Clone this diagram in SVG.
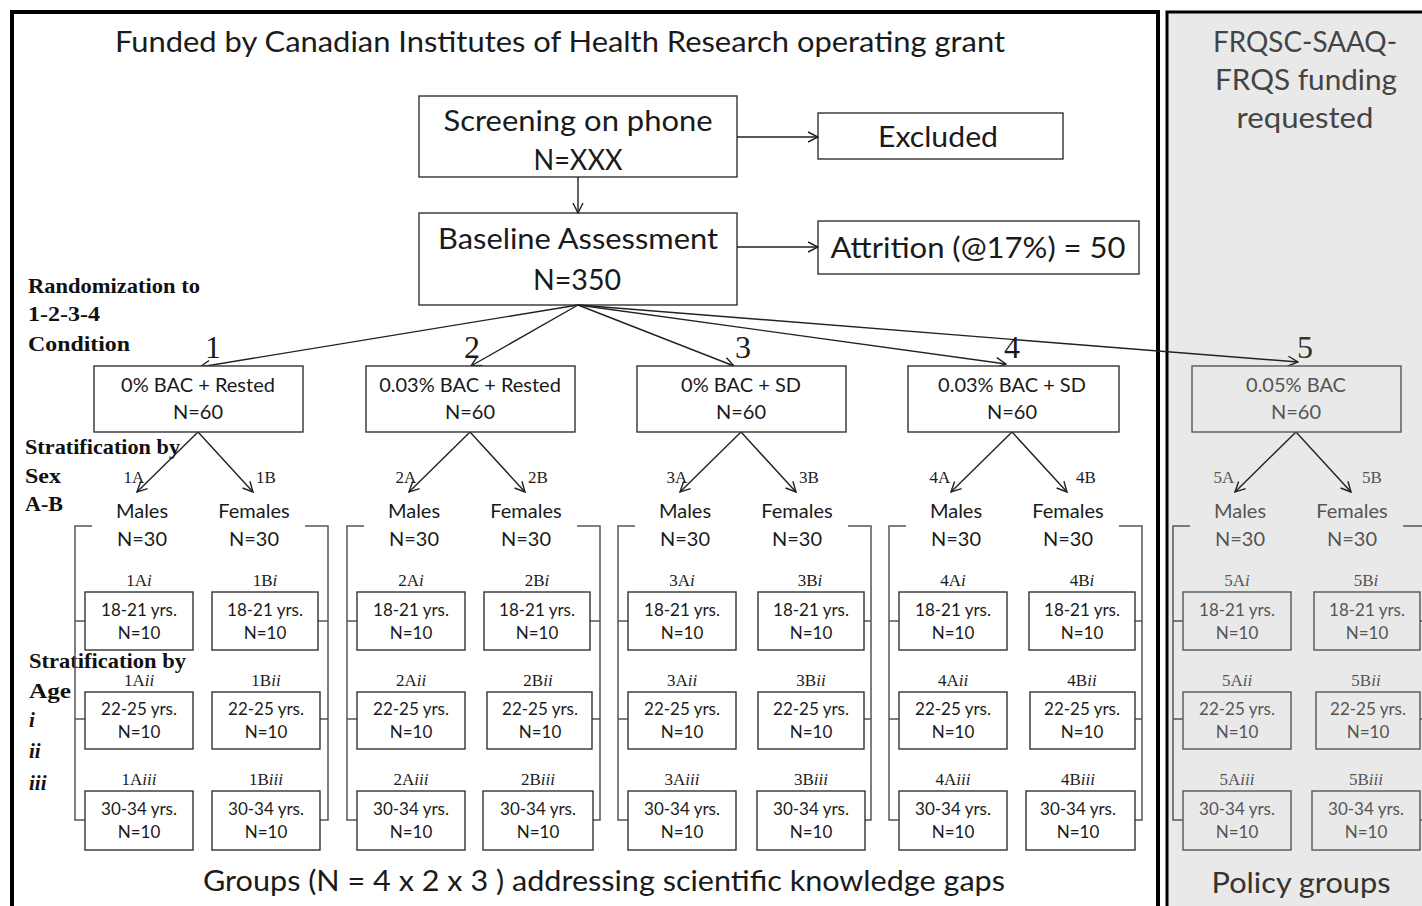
<svg xmlns="http://www.w3.org/2000/svg" width="1422" height="906" viewBox="0 0 1422 906">
<defs>
<style>
.sans{font-family:Lato,"Open Sans","Liberation Sans",sans-serif;fill:#1a1a1a}
.ser{font-family:"Liberation Serif","DejaVu Serif",serif;fill:#1a1a1a}
.lbl{font-family:"Liberation Serif","DejaVu Serif",serif;font-weight:bold;font-size:21px;fill:#111}
.big{font-size:28px}
.mid{font-size:20px}
.sm{font-size:17px}
.box{fill:#fff;stroke:#333;stroke-width:1.4}
.ln{fill:none;stroke:#222;stroke-width:1.4}
.br{fill:none;stroke:#555;stroke-width:1.5}
.c{text-anchor:middle}
.grey .box{fill:#e9e9e9;stroke:#555}
.grey text{fill:#555}
</style>
<marker id="ah" viewBox="0 0 12 12" refX="11" refY="6" markerWidth="12" markerHeight="12" markerUnits="userSpaceOnUse" orient="auto">
<path d="M1,1 L11,6 L1,11" fill="none" stroke="#222" stroke-width="1.4"/>
</marker>
</defs>
<rect x="0" y="0" width="1422" height="906" fill="#fff"/>
<g id="frames">
<rect x="12" y="12" width="1146" height="910" fill="#fff" stroke="#000" stroke-width="4"/>
<rect x="1167" y="12" width="270" height="910" fill="#e9e9e9" stroke="#000" stroke-width="3"/>
</g>
<g id="headers">
<text class="sans big c" x="560" y="52" textLength="890" lengthAdjust="spacingAndGlyphs">Funded by Canadian Institutes of Health Research operating grant</text>
<text class="sans big c" x="1305" y="52" style="fill:#444" textLength="184" lengthAdjust="spacingAndGlyphs">FRQSC-SAAQ-</text>
<text class="sans big c" x="1306" y="90" style="fill:#444" textLength="182" lengthAdjust="spacingAndGlyphs">FRQS funding</text>
<text class="sans big c" x="1305" y="128" style="fill:#444" textLength="137" lengthAdjust="spacingAndGlyphs">requested</text>
<text class="sans big c" x="604" y="891" textLength="802" lengthAdjust="spacingAndGlyphs">Groups (N = 4 x 2 x 3 ) addressing scientific knowledge gaps</text>
<text class="sans big c" x="1301" y="893" style="fill:#333" textLength="179" lengthAdjust="spacingAndGlyphs">Policy groups</text>
</g>
<g id="side-labels">
<text class="lbl" x="28" y="293" textLength="172" lengthAdjust="spacingAndGlyphs">Randomization to</text>
<text class="lbl" x="28" y="321" textLength="72" lengthAdjust="spacingAndGlyphs">1-2-3-4</text>
<text class="lbl" x="28" y="351" textLength="102" lengthAdjust="spacingAndGlyphs">Condition</text>
<text class="lbl" x="25" y="454" textLength="155" lengthAdjust="spacingAndGlyphs">Stratification by</text>
<text class="lbl" x="25" y="483" textLength="36" lengthAdjust="spacingAndGlyphs">Sex</text>
<text class="lbl" x="25" y="511" textLength="38" lengthAdjust="spacingAndGlyphs">A-B</text>
<text class="lbl" x="29" y="668" textLength="157" lengthAdjust="spacingAndGlyphs">Stratification by</text>
<text class="lbl" x="29" y="698" textLength="42" lengthAdjust="spacingAndGlyphs">Age</text>
<text class="lbl" x="29" y="727" font-style="italic">i</text>
<text class="lbl" x="29" y="758" font-style="italic">ii</text>
<text class="lbl" x="29" y="790" font-style="italic">iii</text>
</g>
<g id="screening">
<rect class="box" x="419" y="96" width="318" height="81"/>
<text class="sans big c" x="578" y="131" textLength="269" lengthAdjust="spacingAndGlyphs">Screening on phone</text>
<text class="sans big c" x="578" y="170" textLength="89" lengthAdjust="spacingAndGlyphs">N=XXX</text>
</g>
<g id="excluded">
<rect class="box" x="818" y="113" width="245" height="46"/>
<text class="sans big c" x="938" y="147" textLength="120" lengthAdjust="spacingAndGlyphs">Excluded</text>
</g>
<g id="baseline">
<rect class="box" x="419" y="213" width="318" height="92"/>
<text class="sans big c" x="578" y="249" textLength="280" lengthAdjust="spacingAndGlyphs">Baseline Assessment</text>
<text class="sans big c" x="577" y="290" textLength="88" lengthAdjust="spacingAndGlyphs">N=350</text>
</g>
<g id="attrition">
<rect class="box" x="818" y="221" width="321" height="53"/>
<text class="sans big c" x="978" y="258" textLength="295" lengthAdjust="spacingAndGlyphs">Attrition (@17%) = 50</text>
</g>
<g id="connectors">
<line class="ln" x1="737" y1="137" x2="818" y2="137" marker-end="url(#ah)"/>
<line class="ln" x1="737" y1="247" x2="818" y2="247" marker-end="url(#ah)"/>
<line class="ln" x1="578" y1="177" x2="578" y2="213" marker-end="url(#ah)"/>
<line class="ln" x1="578" y1="305" x2="200" y2="367" marker-end="url(#ah)"/>
<line class="ln" x1="578" y1="305" x2="471" y2="366" marker-end="url(#ah)"/>
<line class="ln" x1="578" y1="305" x2="734" y2="366" marker-end="url(#ah)"/>
<line class="ln" x1="578" y1="305" x2="1006" y2="364" marker-end="url(#ah)"/>
<line class="ln" x1="578" y1="305" x2="1298" y2="362" marker-end="url(#ah)"/>
<g id="col-links-1">
<line class="ln" x1="198" y1="432" x2="137" y2="492" marker-end="url(#ah)"/>
<line class="ln" x1="198" y1="432" x2="253" y2="492" marker-end="url(#ah)"/>
<polyline class="br" points="92,526 75,526 75,820 85,820"/>
<line class="br" x1="75" y1="621" x2="85" y2="621"/>
<line class="br" x1="75" y1="719" x2="85" y2="719"/>
<polyline class="br" points="305,526 328,526 328,820 320,820"/>
<line class="br" x1="328" y1="621" x2="318" y2="621"/>
<line class="br" x1="328" y1="719" x2="320" y2="719"/>
</g>
<use href="#col-links-1" transform="translate(272,0)"/>
<use href="#col-links-1" transform="translate(543,0)"/>
<use href="#col-links-1" transform="translate(814,0)"/>
<use href="#col-links-1" transform="translate(1098,0)"/>
</g>
<g id="cond1">
<rect class="box" x="94" y="366" width="209" height="66"/>
<text class="sans mid c" x="198" y="392">0% BAC + Rested</text>
<text class="sans mid c" x="198" y="419">N=60</text>
<text class="ser c" x="213" y="358" font-size="32">1</text>
</g>
<g id="cond2" transform="translate(272,0)">
<rect class="box" x="94" y="366" width="209" height="66"/>
<text class="sans mid c" x="198" y="392">0.03% BAC + Rested</text>
<text class="sans mid c" x="198" y="419">N=60</text>
<text class="ser c" x="200" y="358" font-size="32">2</text>
</g>
<g id="cond3" transform="translate(543,0)">
<rect class="box" x="94" y="366" width="209" height="66"/>
<text class="sans mid c" x="198" y="392">0% BAC + SD</text>
<text class="sans mid c" x="198" y="419">N=60</text>
<text class="ser c" x="200" y="358" font-size="32">3</text>
</g>
<g id="cond4" transform="translate(814,0)">
<rect class="box" x="94" y="366" width="211" height="66"/>
<text class="sans mid c" x="198" y="392">0.03% BAC + SD</text>
<text class="sans mid c" x="198" y="419">N=60</text>
<text class="ser c" x="198" y="358" font-size="32">4</text>
</g>
<g id="cond5" class="grey" transform="translate(1098,0)">
<rect class="box" x="94" y="366" width="209" height="66"/>
<text class="sans mid c" x="198" y="392">0.05% BAC</text>
<text class="sans mid c" x="198" y="419">N=60</text>
<text class="ser c" x="207" y="358" font-size="32" style="fill:#333">5</text>
</g>
<g id="sex1">
<text class="ser sm c" x="134" y="483">1A</text>
<text class="ser sm c" x="266" y="483">1B</text>
<text class="sans mid c" x="142" y="518">Males</text>
<text class="sans mid c" x="142" y="546">N=30</text>
<text class="sans mid c" x="254" y="518">Females</text>
<text class="sans mid c" x="254" y="546">N=30</text>
</g>
<g id="sex2" transform="translate(272,0)">
<text class="ser sm c" x="134" y="483">2A</text>
<text class="ser sm c" x="266" y="483">2B</text>
<text class="sans mid c" x="142" y="518">Males</text>
<text class="sans mid c" x="142" y="546">N=30</text>
<text class="sans mid c" x="254" y="518">Females</text>
<text class="sans mid c" x="254" y="546">N=30</text>
</g>
<g id="sex3" transform="translate(543,0)">
<text class="ser sm c" x="134" y="483">3A</text>
<text class="ser sm c" x="266" y="483">3B</text>
<text class="sans mid c" x="142" y="518">Males</text>
<text class="sans mid c" x="142" y="546">N=30</text>
<text class="sans mid c" x="254" y="518">Females</text>
<text class="sans mid c" x="254" y="546">N=30</text>
</g>
<g id="sex4" transform="translate(814,0)">
<text class="ser sm c" x="126" y="483">4A</text>
<text class="ser sm c" x="272" y="483">4B</text>
<text class="sans mid c" x="142" y="518">Males</text>
<text class="sans mid c" x="142" y="546">N=30</text>
<text class="sans mid c" x="254" y="518">Females</text>
<text class="sans mid c" x="254" y="546">N=30</text>
</g>
<g id="sex5" class="grey" transform="translate(1098,0)">
<text class="ser sm c" x="126" y="483">5A</text>
<text class="ser sm c" x="274" y="483">5B</text>
<text class="sans mid c" x="142" y="518">Males</text>
<text class="sans mid c" x="142" y="546">N=30</text>
<text class="sans mid c" x="254" y="518">Females</text>
<text class="sans mid c" x="254" y="546">N=30</text>
</g>
<g id="age1">
<text class="ser sm c" x="139" y="586">1A<tspan font-style="italic">i</tspan></text>
<rect class="box" x="85" y="592" width="108" height="58"/>
<text class="sans sm c" x="139" y="616">18-21 yrs.</text><text class="sans sm c" x="139" y="639">N=10</text>
<text class="ser sm c" x="265" y="586">1B<tspan font-style="italic">i</tspan></text>
<rect class="box" x="212" y="592" width="106" height="58"/>
<text class="sans sm c" x="265" y="616">18-21 yrs.</text><text class="sans sm c" x="265" y="639">N=10</text>
<text class="ser sm c" x="139" y="686">1A<tspan font-style="italic">ii</tspan></text>
<rect class="box" x="85" y="692" width="108" height="57"/>
<text class="sans sm c" x="139" y="715">22-25 yrs.</text><text class="sans sm c" x="139" y="738">N=10</text>
<text class="ser sm c" x="266" y="686">1B<tspan font-style="italic">ii</tspan></text>
<rect class="box" x="212" y="692" width="108" height="57"/>
<text class="sans sm c" x="266" y="715">22-25 yrs.</text><text class="sans sm c" x="266" y="738">N=10</text>
<text class="ser sm c" x="139" y="785">1A<tspan font-style="italic">iii</tspan></text>
<rect class="box" x="85" y="791" width="108" height="59"/>
<text class="sans sm c" x="139" y="815">30-34 yrs.</text><text class="sans sm c" x="139" y="838">N=10</text>
<text class="ser sm c" x="266" y="785">1B<tspan font-style="italic">iii</tspan></text>
<rect class="box" x="212" y="791" width="108" height="59"/>
<text class="sans sm c" x="266" y="815">30-34 yrs.</text><text class="sans sm c" x="266" y="838">N=10</text>
</g>
<g id="age2" transform="translate(272,0)">
<text class="ser sm c" x="139" y="586">2A<tspan font-style="italic">i</tspan></text>
<rect class="box" x="85" y="592" width="108" height="58"/>
<text class="sans sm c" x="139" y="616">18-21 yrs.</text><text class="sans sm c" x="139" y="639">N=10</text>
<text class="ser sm c" x="265" y="586">2B<tspan font-style="italic">i</tspan></text>
<rect class="box" x="212" y="592" width="106" height="58"/>
<text class="sans sm c" x="265" y="616">18-21 yrs.</text><text class="sans sm c" x="265" y="639">N=10</text>
<text class="ser sm c" x="139" y="686">2A<tspan font-style="italic">ii</tspan></text>
<rect class="box" x="85" y="692" width="108" height="57"/>
<text class="sans sm c" x="139" y="715">22-25 yrs.</text><text class="sans sm c" x="139" y="738">N=10</text>
<text class="ser sm c" x="266" y="686">2B<tspan font-style="italic">ii</tspan></text>
<rect class="box" x="215" y="692" width="105" height="57"/>
<text class="sans sm c" x="268" y="715">22-25 yrs.</text><text class="sans sm c" x="268" y="738">N=10</text>
<text class="ser sm c" x="139" y="785">2A<tspan font-style="italic">iii</tspan></text>
<rect class="box" x="85" y="791" width="108" height="59"/>
<text class="sans sm c" x="139" y="815">30-34 yrs.</text><text class="sans sm c" x="139" y="838">N=10</text>
<text class="ser sm c" x="266" y="785">2B<tspan font-style="italic">iii</tspan></text>
<rect class="box" x="211" y="791" width="110" height="59"/>
<text class="sans sm c" x="266" y="815">30-34 yrs.</text><text class="sans sm c" x="266" y="838">N=10</text>
</g>
<g id="age3" transform="translate(543,0)">
<text class="ser sm c" x="139" y="586">3A<tspan font-style="italic">i</tspan></text>
<rect class="box" x="85" y="592" width="108" height="58"/>
<text class="sans sm c" x="139" y="616">18-21 yrs.</text><text class="sans sm c" x="139" y="639">N=10</text>
<text class="ser sm c" x="267" y="586">3B<tspan font-style="italic">i</tspan></text>
<rect class="box" x="215" y="592" width="106" height="58"/>
<text class="sans sm c" x="268" y="616">18-21 yrs.</text><text class="sans sm c" x="268" y="639">N=10</text>
<text class="ser sm c" x="139" y="686">3A<tspan font-style="italic">ii</tspan></text>
<rect class="box" x="85" y="692" width="108" height="57"/>
<text class="sans sm c" x="139" y="715">22-25 yrs.</text><text class="sans sm c" x="139" y="738">N=10</text>
<text class="ser sm c" x="268" y="686">3B<tspan font-style="italic">ii</tspan></text>
<rect class="box" x="215" y="692" width="106" height="57"/>
<text class="sans sm c" x="268" y="715">22-25 yrs.</text><text class="sans sm c" x="268" y="738">N=10</text>
<text class="ser sm c" x="139" y="785">3A<tspan font-style="italic">iii</tspan></text>
<rect class="box" x="85" y="791" width="108" height="59"/>
<text class="sans sm c" x="139" y="815">30-34 yrs.</text><text class="sans sm c" x="139" y="838">N=10</text>
<text class="ser sm c" x="268" y="785">3B<tspan font-style="italic">iii</tspan></text>
<rect class="box" x="214" y="791" width="108" height="59"/>
<text class="sans sm c" x="268" y="815">30-34 yrs.</text><text class="sans sm c" x="268" y="838">N=10</text>
</g>
<g id="age4" transform="translate(814,0)">
<text class="ser sm c" x="139" y="586">4A<tspan font-style="italic">i</tspan></text>
<rect class="box" x="85" y="592" width="108" height="58"/>
<text class="sans sm c" x="139" y="616">18-21 yrs.</text><text class="sans sm c" x="139" y="639">N=10</text>
<text class="ser sm c" x="268" y="586">4B<tspan font-style="italic">i</tspan></text>
<rect class="box" x="215" y="592" width="106" height="58"/>
<text class="sans sm c" x="268" y="616">18-21 yrs.</text><text class="sans sm c" x="268" y="639">N=10</text>
<text class="ser sm c" x="139" y="686">4A<tspan font-style="italic">ii</tspan></text>
<rect class="box" x="85" y="692" width="108" height="57"/>
<text class="sans sm c" x="139" y="715">22-25 yrs.</text><text class="sans sm c" x="139" y="738">N=10</text>
<text class="ser sm c" x="268" y="686">4B<tspan font-style="italic">ii</tspan></text>
<rect class="box" x="216" y="692" width="105" height="57"/>
<text class="sans sm c" x="268" y="715">22-25 yrs.</text><text class="sans sm c" x="268" y="738">N=10</text>
<text class="ser sm c" x="139" y="785">4A<tspan font-style="italic">iii</tspan></text>
<rect class="box" x="85" y="791" width="108" height="59"/>
<text class="sans sm c" x="139" y="815">30-34 yrs.</text><text class="sans sm c" x="139" y="838">N=10</text>
<text class="ser sm c" x="264" y="785">4B<tspan font-style="italic">iii</tspan></text>
<rect class="box" x="212" y="791" width="109" height="59"/>
<text class="sans sm c" x="264" y="815">30-34 yrs.</text><text class="sans sm c" x="264" y="838">N=10</text>
</g>
<g id="age5" class="grey" transform="translate(1098,0)">
<text class="ser sm c" x="139" y="586">5A<tspan font-style="italic">i</tspan></text>
<rect class="box" x="85" y="592" width="108" height="58"/>
<text class="sans sm c" x="139" y="616">18-21 yrs.</text><text class="sans sm c" x="139" y="639">N=10</text>
<text class="ser sm c" x="268" y="586">5B<tspan font-style="italic">i</tspan></text>
<rect class="box" x="216" y="592" width="106" height="58"/>
<text class="sans sm c" x="269" y="616">18-21 yrs.</text><text class="sans sm c" x="269" y="639">N=10</text>
<text class="ser sm c" x="139" y="686">5A<tspan font-style="italic">ii</tspan></text>
<rect class="box" x="85" y="692" width="108" height="57"/>
<text class="sans sm c" x="139" y="715">22-25 yrs.</text><text class="sans sm c" x="139" y="738">N=10</text>
<text class="ser sm c" x="268" y="686">5B<tspan font-style="italic">ii</tspan></text>
<rect class="box" x="218" y="692" width="104" height="57"/>
<text class="sans sm c" x="270" y="715">22-25 yrs.</text><text class="sans sm c" x="270" y="738">N=10</text>
<text class="ser sm c" x="139" y="785">5A<tspan font-style="italic">iii</tspan></text>
<rect class="box" x="85" y="791" width="108" height="59"/>
<text class="sans sm c" x="139" y="815">30-34 yrs.</text><text class="sans sm c" x="139" y="838">N=10</text>
<text class="ser sm c" x="268" y="785">5B<tspan font-style="italic">iii</tspan></text>
<rect class="box" x="214" y="791" width="108" height="59"/>
<text class="sans sm c" x="268" y="815">30-34 yrs.</text><text class="sans sm c" x="268" y="838">N=10</text>
</g>
</svg>
